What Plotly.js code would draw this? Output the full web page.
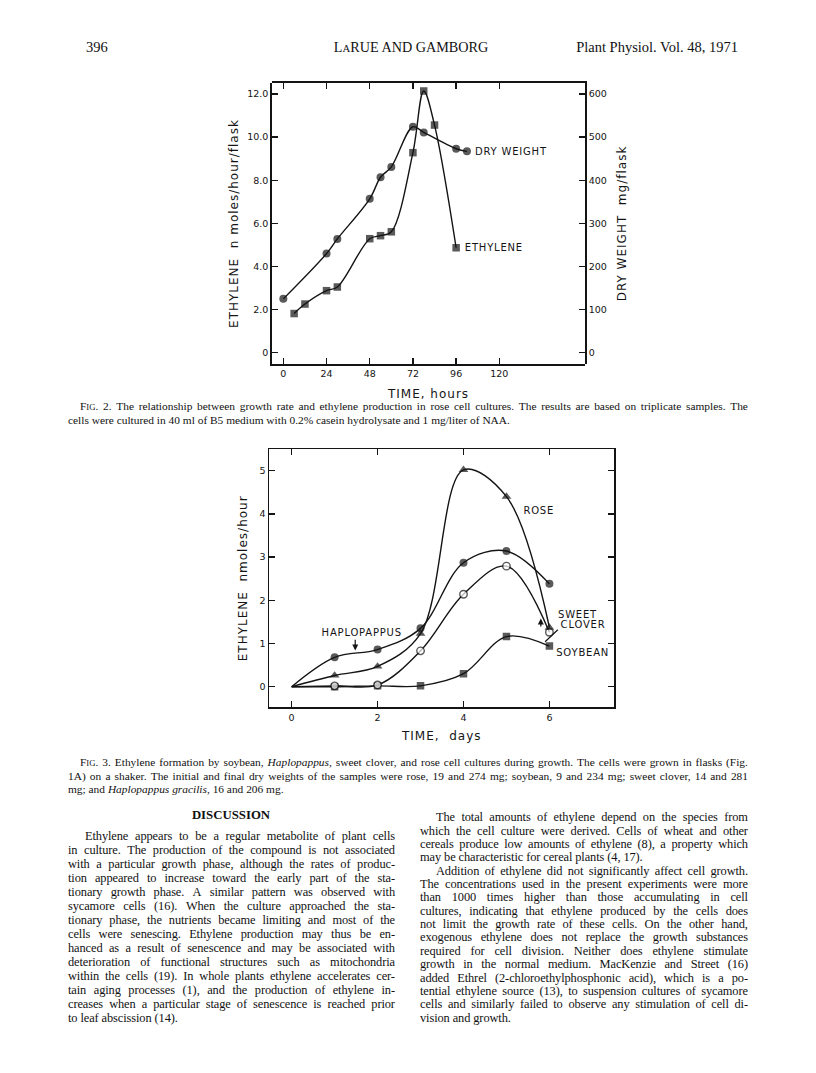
<!DOCTYPE html>
<html>
<head>
<meta charset="utf-8">
<script src="https://cdn.plot.ly/plotly-3.0.1.min.js"></script>
<style>
  body { margin: 0; background: #fff; }
  #page { position: relative; width: 816px; height: 1073px; overflow: hidden; background: #fff;
          color: #111; font-family: "Liberation Serif", "Times New Roman", serif; }
  #plot { position: absolute; left: 0; top: 0; width: 816px; height: 1073px; }
  .ln { position: absolute; display: flex; justify-content: space-between; white-space: nowrap; }
  .tx { position: absolute; white-space: nowrap; }
  small { font-size: 76%; }
  #plot .annotation-text { letter-spacing: 0.8px; }
  #plot .xtitle, #plot .x2title, #plot .ytitle, #plot .y2title, #plot .y3title { letter-spacing: 1px; }
</style>
</head>
<body>
<div id="page">
  <div id="plot"></div>
</div>
<script>
// ---- Fig. 2 : rose cell cultures ----
let hoursDry = [0, 24, 30, 48, 54, 60, 72, 78, 96, 102];
let dryWeight = [125, 230, 264, 357, 407, 431, 524, 511, 473, 467];      // mg/flask
let hoursEth = [6, 12, 24, 30, 48, 54, 60, 72, 78, 84, 96];
let ethyleneRose = [1.82, 2.26, 2.88, 3.05, 5.29, 5.43, 5.61, 9.28, 12.14, 10.56, 4.87]; // nmoles/hour/flask

let hourTicks = [0, 24, 48, 72, 96, 120];
let ethTicks = [0, 2, 4, 6, 8, 10, 12];
let ethTickText = ["0", "2.0", "4.0", "6.0", "8.0", "10.0", "12.0"];
let dryTicks = [0, 100, 200, 300, 400, 500, 600];

// ---- Fig. 3 : four species ----
let days = [0, 1, 2, 3, 4, 5, 6];
let haplopappus = [0, 0.68, 0.86, 1.35, 2.87, 3.14, 2.38];
let rose = [0, 0.26, 0.47, 1.23, 5.02, 4.40, 1.37];
let sweetClover = [0, 0.02, 0.04, 0.83, 2.14, 2.79, 1.26];
let soybean = [0, 0, 0.02, 0.02, 0.30, 1.16, 0.94];

let dayTicks = [0, 2, 4, 6];
let fig3Ticks = [0, 1, 2, 3, 4, 5];

// ---- page text ----
let headLeft = "396";
let headCenter = "L<small>A</small>RUE AND GAMBORG";
let headRight = "Plant Physiol. Vol. 48, 1971";

let fig2Caption = [
  "F<small>IG</small>. 2. The relationship between growth rate and ethylene production in rose cell cultures. The results are based on triplicate samples. The",
  "cells were cultured in 40 ml of B5 medium with 0.2% casein hydrolysate and 1 mg/liter of NAA."
];
let fig3Caption = [
  "F<small>IG</small>. 3. Ethylene formation by soybean, <i>Haplopappus</i>, sweet clover, and rose cell cultures during growth. The cells were grown in flasks (Fig.",
  "1A) on a shaker. The initial and final dry weights of the samples were rose, 19 and 274 mg; soybean, 9 and 234 mg; sweet clover, 14 and 281",
  "mg; and <i>Haplopappus</i> <i>gracilis</i>, 16 and 206 mg."
];
let leftColumn = [
  "Ethylene appears to be a regular metabolite of plant cells",
  "in culture. The production of the compound is not associated",
  "with a particular growth phase, although the rates of produc-",
  "tion appeared to increase toward the early part of the sta-",
  "tionary growth phase. A similar pattern was observed with",
  "sycamore cells (16). When the culture approached the sta-",
  "tionary phase, the nutrients became limiting and most of the",
  "cells were senescing. Ethylene production may thus be en-",
  "hanced as a result of senescence and may be associated with",
  "deterioration of functional structures such as mitochondria",
  "within the cells (19). In whole plants ethylene accelerates cer-",
  "tain aging processes (1), and the production of ethylene in-",
  "creases when a particular stage of senescence is reached prior",
  "to leaf abscission (14)."
];
let rightPara1 = [
  "The total amounts of ethylene depend on the species from",
  "which the cell culture were derived. Cells of wheat and other",
  "cereals produce low amounts of ethylene (8), a property which",
  "may be characteristic for cereal plants (4, 17)."
];
let rightPara2 = [
  "Addition of ethylene did not significantly affect cell growth.",
  "The concentrations used in the present experiments were more",
  "than 1000 times higher than those accumulating in cell",
  "cultures, indicating that ethylene produced by the cells does",
  "not limit the growth rate of these cells. On the other hand,",
  "exogenous ethylene does not replace the growth substances",
  "required for cell division. Neither does ethylene stimulate",
  "growth in the normal medium. MacKenzie and Street (16)",
  "added Ethrel (2-chloroethylphosphonic acid), which is a po-",
  "tential ethylene source (13), to suspension cultures of sycamore",
  "cells and similarly failed to observe any stimulation of cell di-",
  "vision and growth."
];

const page = document.getElementById("page");

function addText(html, x, yMid, size, lh, opts) {
  opts = opts || {};
  let d = document.createElement("div");
  d.style.top = (yMid - lh / 2) + "px";
  d.style.lineHeight = lh + "px";
  d.style.fontSize = size + "px";
  if (opts.ls) d.style.letterSpacing = opts.ls + "px";
  if (opts.bold) d.style.fontWeight = "bold";
  if (opts.width && opts.justify) {
    d.className = "ln";
    d.style.left = x + "px";
    d.style.width = opts.width + "px";
    html.split(" ").forEach(w => {
      let s = document.createElement("span");
      s.innerHTML = w;
      d.appendChild(s);
    });
  } else {
    d.className = "tx";
    d.innerHTML = html;
    if (opts.align === "center") {
      d.style.left = (x - 300) + "px"; d.style.width = "600px"; d.style.textAlign = "center";
    } else if (opts.align === "right") {
      d.style.left = (x - 600) + "px"; d.style.width = "600px"; d.style.textAlign = "right";
    } else {
      d.style.left = x + "px";
    }
  }
  page.appendChild(d);
}

function addParagraph(lines, x, width, y0, lh, size, indent, ls) {
  lines.forEach((l, i) => {
    let last = i === lines.length - 1;
    let ix = i === 0 ? indent : 0;
    addText(l, x + ix, y0 + i * lh, size, lh, { width: width - ix, justify: !last, ls: ls });
  });
  return y0 + lines.length * lh;
}

// running head
addText(headLeft, 86, 47, 14.5, 16);
addText(headCenter, 411, 47, 14.2, 16, { align: "center" });
addText(headRight, 738, 47, 14.5, 16, { align: "right" });

// captions
addParagraph(fig2Caption, 68, 680, 406, 14, 11.4, 12, 0);
addParagraph(fig3Caption, 68, 680, 763, 13.5, 11.4, 12, 0);

// discussion
addText("DISCUSSION", 231, 815, 12.8, 15, { align: "center", bold: true });
addParagraph(leftColumn, 68, 327, 836, 14.0, 12.4, 17, -0.1);
let yR = addParagraph(rightPara1, 420, 328, 818, 13.35, 12.4, 16, -0.1);
addParagraph(rightPara2, 420, 328, yR, 13.35, 12.4, 16, -0.1);

// ---- charts ----
const ink = "#141414";
const W = 816, H = 1073;
const lettering = "DejaVu Sans, Verdana, sans-serif";
const fig2X = [272 / W, 585 / W], fig2Y = [1 - 364 / H, 1 - 83 / H];
const hourRange = [-6.3, 167.6];

function frameAxis(extra) {
  return Object.assign({
    showgrid: false, zeroline: false, showline: true, linecolor: ink, linewidth: 1.8,
    ticks: "inside", ticklen: 6, tickwidth: 1.4, tickcolor: ink, mirror: false,
    tickfont: { family: lettering, size: 9.5, color: ink }
  }, extra);
}

function curve(x, y, xa, ya, symbol, fill, size, first) {
  return {
    x: x, y: y, xaxis: xa, yaxis: ya, type: "scatter", mode: "lines+markers",
    line: { shape: "spline", smoothing: 1, color: ink, width: 1.4 },
    marker: {
      symbol: symbol, color: fill, size: y.map((v, i) => (i < first ? 0 : size)),
      line: { color: ink, width: fill === "#fff" ? 1.4 : 0 }
    },
    hoverinfo: "skip", showlegend: false
  };
}

// Fig. 2 uses two stacked subplots on the same box: x/y (ethylene, bottom+left)
// and x4/y2 (dry weight, top+right), so every side of the frame has its own ticks.
let traces = [
  curve(hoursDry, dryWeight, "x4", "y2", "circle", ink, 8, 0),
  curve(hoursEth, ethyleneRose, "x", "y", "square", ink, 7.5, 0),
  curve(days, soybean, "x2", "y3", "square", ink, 7.5, 1),
  curve(days, sweetClover, "x2", "y3", "circle", "#fff", 7.5, 1),
  curve(days, rose, "x2", "y3", "triangle-up", ink, 8.5, 1),
  curve(days, haplopappus, "x2", "y3", "circle", ink, 8, 1)
];

function label(text, x, y, xa, ya, anchor) {
  return {
    text: text, x: x, y: y, xref: xa, yref: ya, xanchor: anchor || "left", yanchor: "middle",
    showarrow: false, font: { family: lettering, size: 10, color: ink }
  };
}
function pointer(x, y, ax, ay, head) {
  return {
    text: "", x: x, y: y, ax: ax, ay: ay, xref: "x2", yref: "y3", axref: "x2", ayref: "y3",
    showarrow: true, arrowhead: head, arrowsize: 1, arrowwidth: 1.2, arrowcolor: ink, standoff: 0
  };
}

let layout = {
  width: W, height: H, margin: { l: 0, r: 0, t: 0, b: 0 },
  paper_bgcolor: "rgba(0,0,0,0)", plot_bgcolor: "rgba(0,0,0,0)",
  font: { family: lettering, color: ink },
  xaxis: frameAxis({
    domain: fig2X, anchor: "y", range: hourRange, tickvals: hourTicks,
    title: { text: "TIME, hours", font: { family: lettering, size: 12, color: ink }, standoff: 11 }
  }),
  yaxis: frameAxis({
    domain: fig2Y, anchor: "x", range: [-0.52, 12.51],
    tickvals: ethTicks, ticktext: ethTickText,
    title: { text: "ETHYLENE\u00a0\u00a0n moles/hour/flask", font: { family: lettering, size: 12, color: ink }, standoff: 6 }
  }),
  xaxis4: frameAxis({
    domain: fig2X, anchor: "y2", side: "top", range: hourRange, tickvals: hourTicks,
    showticklabels: false
  }),
  yaxis2: frameAxis({
    domain: fig2Y, anchor: "x4", side: "right", range: [-26, 625.5], tickvals: dryTicks,
    title: { text: "DRY WEIGHT\u00a0\u00a0mg/flask", font: { family: lettering, size: 12, color: ink }, standoff: 12 }
  }),
  xaxis2: frameAxis({
    domain: [269.3 / W, 614.3 / W], anchor: "y3", range: [-0.52, 7.51], tickvals: dayTicks, mirror: "ticks",
    title: { text: "TIME,\u00a0\u00a0days", font: { family: lettering, size: 12, color: ink }, standoff: 10 }
  }),
  yaxis3: frameAxis({
    domain: [1 - 707.3 / H, 1 - 449.3 / H], anchor: "x2", range: [-0.477, 5.495], tickvals: fig3Ticks, mirror: "ticks",
    title: { text: "ETHYLENE\u00a0\u00a0nmoles/hour", font: { family: lettering, size: 12, color: ink }, standoff: 9 }
  }),
  annotations: [
    label("DRY WEIGHT", 107.4, 9.32, "x", "y"),
    label("ETHYLENE", 101.5, 4.89, "x", "y"),
    label("ROSE", 5.75, 4.07, "x2", "y3", "center"),
    label("SWEET", 6.19, 1.68, "x2", "y3"),
    label("CLOVER", 6.27, 1.45, "x2", "y3"),
    label("SOYBEAN", 6.17, 0.79, "x2", "y3"),
    label("HAPLOPAPPUS", 1.62, 1.25, "x2", "y3", "center"),
    pointer(1.48, 0.84, 1.48, 1.12, 2),
    pointer(5.9, 1.04, 6.23, 1.35, 0),
    pointer(5.8, 1.58, 5.8, 1.36, 2)
  ]
};

Plotly.newPlot("plot", traces, layout, { staticPlot: true });
</script>
</body>
</html>
